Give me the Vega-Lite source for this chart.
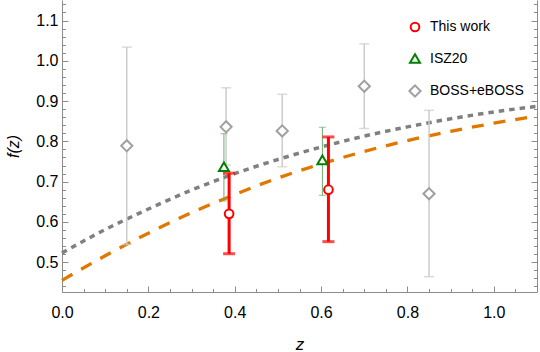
{
  "$schema": "https://vega.github.io/schema/vega-lite/v6.json",
  "width": 475,
  "height": 292,
  "autosize": {"type": "none"},
  "padding": {"left": 62, "top": 0, "right": 3, "bottom": 60},
  "background": "white",
  "config": {
    "view": {"stroke": null},
    "font": "Liberation Sans",
    "axis": {"grid": false, "domainColor": "#8c8c8c", "tickColor": "#8c8c8c", "labelFont": "Liberation Sans", "labelFontSize": 16, "labelColor": "#000000", "labelFlush": false, "labelOverlap": false}
  },
  "datasets": {
    "curves": [
      {"model": "gray", "z": 0.0, "f": 0.523},
      {"model": "gray", "z": 0.1, "f": 0.581},
      {"model": "gray", "z": 0.2, "f": 0.632},
      {"model": "gray", "z": 0.3, "f": 0.679},
      {"model": "gray", "z": 0.4, "f": 0.720},
      {"model": "gray", "z": 0.5, "f": 0.755},
      {"model": "gray", "z": 0.6, "f": 0.786},
      {"model": "gray", "z": 0.7, "f": 0.813},
      {"model": "gray", "z": 0.8, "f": 0.836},
      {"model": "gray", "z": 0.9, "f": 0.856},
      {"model": "gray", "z": 1.0, "f": 0.873},
      {"model": "gray", "z": 1.1, "f": 0.887},
      {"model": "orange", "z": 0.0, "f": 0.455},
      {"model": "orange", "z": 0.1, "f": 0.516},
      {"model": "orange", "z": 0.2, "f": 0.572},
      {"model": "orange", "z": 0.3, "f": 0.623},
      {"model": "orange", "z": 0.4, "f": 0.668},
      {"model": "orange", "z": 0.5, "f": 0.709},
      {"model": "orange", "z": 0.6, "f": 0.744},
      {"model": "orange", "z": 0.7, "f": 0.775},
      {"model": "orange", "z": 0.8, "f": 0.802},
      {"model": "orange", "z": 0.9, "f": 0.825},
      {"model": "orange", "z": 1.0, "f": 0.845},
      {"model": "orange", "z": 1.1, "f": 0.863}
    ],
    "pts": [
      {"series": "BOSS+eBOSS", "z": 0.15, "f": 0.789, "lo": 0.544, "hi": 1.034},
      {"series": "BOSS+eBOSS", "z": 0.38, "f": 0.836, "lo": 0.741, "hi": 0.933},
      {"series": "BOSS+eBOSS", "z": 0.51, "f": 0.826, "lo": 0.737, "hi": 0.917},
      {"series": "BOSS+eBOSS", "z": 0.70, "f": 0.937, "lo": 0.832, "hi": 1.042},
      {"series": "BOSS+eBOSS", "z": 0.85, "f": 0.670, "lo": 0.464, "hi": 0.877},
      {"series": "ISZ20", "z": 0.375, "f": 0.737, "lo": 0.652, "hi": 0.819},
      {"series": "ISZ20", "z": 0.603, "f": 0.754, "lo": 0.666, "hi": 0.835},
      {"series": "This work", "z": 0.387, "f": 0.620, "lo": 0.521, "hi": 0.721},
      {"series": "This work", "z": 0.617, "f": 0.680, "lo": 0.551, "hi": 0.811}
    ]
  },
  "resolve": {"axis": {"x": "independent", "y": "independent"}},
  "layer": [
    {
      "data": {"name": "curves"},
      "transform": [{"filter": "datum.model === 'gray'"}],
      "mark": {"type": "line", "color": "#808080", "strokeWidth": 3.5, "strokeDash": [5.5, 5], "interpolate": "monotone"},
      "encoding": {
        "x": {"field": "z", "type": "quantitative", "scale": {"domain": [0, 1.1], "nice": false, "zero": false},
          "axis": {"orient": "bottom", "values": [0, 0.2, 0.4, 0.6, 0.8, 1.0], "format": ".1f", "ticks": false, "tickSize": 0, "domain": true, "labelPadding": 12, "title": "z", "titleFont": "Liberation Sans", "titleFontSize": 17, "titleFontStyle": "italic", "titleFontWeight": "normal", "titleColor": "#000000", "titlePadding": 16}},
        "y": {"field": "f", "type": "quantitative", "scale": {"domain": [0.426, 1.151], "nice": false, "zero": false},
          "axis": {"orient": "left", "values": [0.5, 0.6, 0.7, 0.8, 0.9, 1.0, 1.1], "format": ".1f", "ticks": false, "tickSize": 0, "domain": true, "labelPadding": 4, "title": "f(z)", "titleFont": "Liberation Sans", "titleFontSize": 16, "titleFontStyle": "italic", "titleFontWeight": "normal", "titleColor": "#000000", "titlePadding": 14}}
      }
    },
    {
      "data": {"name": "curves"},
      "transform": [{"filter": "datum.model === 'orange'"}],
      "mark": {"type": "line", "color": "#E07800", "strokeWidth": 3.3, "strokeDash": [12, 10], "interpolate": "monotone"},
      "encoding": {
        "x": {"field": "z", "type": "quantitative", "scale": {"domain": [0, 1.1], "nice": false, "zero": false},
          "axis": {"orient": "bottom", "values": [0, 0.2, 0.4, 0.6, 0.8, 1.0], "labels": false, "ticks": true, "tickSize": 6, "offset": -6, "domain": false, "title": null}},
        "y": {"field": "f", "type": "quantitative", "scale": {"domain": [0.426, 1.151], "nice": false, "zero": false},
          "axis": {"orient": "left", "values": [0.5, 0.6, 0.7, 0.8, 0.9, 1.0, 1.1], "labels": false, "ticks": true, "tickSize": 6, "offset": -6, "domain": false, "title": null}}
      }
    },
    {
      "data": {"name": "pts"},
      "transform": [{"filter": "datum.series === 'BOSS+eBOSS'"}],
      "mark": {"type": "rule", "color": "#CCCCCC", "strokeWidth": 1.5},
      "encoding": {
        "x": {"field": "z", "type": "quantitative", "scale": {"domain": [0, 1.1], "nice": false, "zero": false},
          "axis": {"orient": "bottom", "values": [0.05, 0.1, 0.15, 0.25, 0.3, 0.35, 0.45, 0.5, 0.55, 0.65, 0.7, 0.75, 0.85, 0.9, 0.95, 1.05], "labels": false, "ticks": true, "tickSize": 3.5, "offset": -3.5, "domain": false, "title": null}},
        "y": {"field": "lo", "type": "quantitative", "scale": {"domain": [0.426, 1.151], "nice": false, "zero": false},
          "axis": {"orient": "left", "values": [0.44, 0.46, 0.48, 0.52, 0.54, 0.56, 0.58, 0.62, 0.64, 0.66, 0.68, 0.72, 0.74, 0.76, 0.78, 0.82, 0.84, 0.86, 0.88, 0.92, 0.94, 0.96, 0.98, 1.02, 1.04, 1.06, 1.08, 1.12, 1.14], "labels": false, "ticks": true, "tickSize": 3.5, "offset": -3.5, "domain": false, "title": null}},
        "y2": {"field": "hi"}
      }
    },
    {
      "data": {"name": "pts"},
      "transform": [{"filter": "datum.series === 'BOSS+eBOSS'"}, {"fold": ["lo", "hi"], "as": ["end", "val"]}],
      "mark": {"type": "tick", "orient": "horizontal", "color": "#CCCCCC", "size": 10, "thickness": 1.5},
      "encoding": {
        "x": {"field": "z", "type": "quantitative", "axis": null},
        "y": {"field": "val", "type": "quantitative", "scale": {"domain": [0.426, 1.151], "nice": false, "zero": false},
          "axis": {"orient": "right", "values": [0.5, 0.6, 0.7, 0.8, 0.9, 1.0, 1.1], "labels": false, "ticks": true, "tickSize": 6, "offset": -6, "domain": false, "title": null}}
      }
    },
    {
      "data": {"name": "pts"},
      "transform": [{"filter": "datum.series === 'ISZ20'"}],
      "mark": {"type": "rule", "color": "#6BAA6B", "strokeWidth": 1},
      "encoding": {
        "x": {"field": "z", "type": "quantitative", "axis": null},
        "y": {"field": "lo", "type": "quantitative", "scale": {"domain": [0.426, 1.151], "nice": false, "zero": false},
          "axis": {"orient": "right", "values": [0.44, 0.46, 0.48, 0.52, 0.54, 0.56, 0.58, 0.62, 0.64, 0.66, 0.68, 0.72, 0.74, 0.76, 0.78, 0.82, 0.84, 0.86, 0.88, 0.92, 0.94, 0.96, 0.98, 1.02, 1.04, 1.06, 1.08, 1.12, 1.14], "labels": false, "ticks": true, "tickSize": 3.5, "offset": -3.5, "domain": false, "title": null}},
        "y2": {"field": "hi"}
      }
    },
    {
      "data": {"name": "pts"},
      "transform": [{"filter": "datum.series === 'ISZ20'"}, {"fold": ["lo", "hi"], "as": ["end", "val"]}],
      "mark": {"type": "tick", "orient": "horizontal", "color": "#6BAA6B", "size": 7, "thickness": 1},
      "encoding": {
        "x": {"field": "z", "type": "quantitative", "axis": null},
        "y": {"field": "val", "type": "quantitative", "scale": {"domain": [0.426, 1.151], "nice": false, "zero": false},
          "axis": {"orient": "right", "values": [0.5], "labels": false, "ticks": false, "domain": true, "title": null}}
      }
    },
    {
      "data": {"name": "pts"},
      "transform": [{"filter": "datum.series === 'This work'"}],
      "mark": {"type": "rule", "color": "#FF0000", "strokeWidth": 3},
      "encoding": {
        "x": {"field": "z", "type": "quantitative", "axis": null},
        "y": {"field": "lo", "type": "quantitative", "axis": null},
        "y2": {"field": "hi"}
      }
    },
    {
      "data": {"name": "pts"},
      "transform": [{"filter": "datum.series === 'This work'"}, {"fold": ["lo", "hi"], "as": ["end", "val"]}],
      "mark": {"type": "tick", "orient": "horizontal", "color": "#FF0000", "size": 12, "thickness": 3},
      "encoding": {
        "x": {"field": "z", "type": "quantitative", "axis": null},
        "y": {"field": "val", "type": "quantitative", "axis": null}
      }
    },
    {
      "data": {"name": "pts"},
      "mark": {"type": "point", "filled": false, "fill": "white", "strokeWidth": 2, "opacity": 1},
      "encoding": {
        "x": {"field": "z", "type": "quantitative", "axis": null},
        "y": {"field": "f", "type": "quantitative", "axis": null},
        "color": {"field": "series", "type": "nominal",
          "scale": {"domain": ["This work", "ISZ20", "BOSS+eBOSS"], "range": ["#FF0000", "#007F00", "#A0A0A0"]},
          "legend": {"orient": "none", "legendX": 346, "legendY": 20, "title": null, "labelFont": "Liberation Sans", "labelFontSize": 14, "labelColor": "#000000", "rowPadding": 13.5, "symbolStrokeWidth": 2, "symbolFillColor": "white", "labelOffset": 8, "padding": 0}},
        "shape": {"field": "series", "type": "nominal",
          "scale": {"domain": ["This work", "ISZ20", "BOSS+eBOSS"], "range": ["circle", "triangle-up", "diamond"]}},
        "size": {"field": "series", "type": "nominal",
          "scale": {"domain": ["This work", "ISZ20", "BOSS+eBOSS"], "range": [75, 125, 135]}}
      }
    }
  ]
}
